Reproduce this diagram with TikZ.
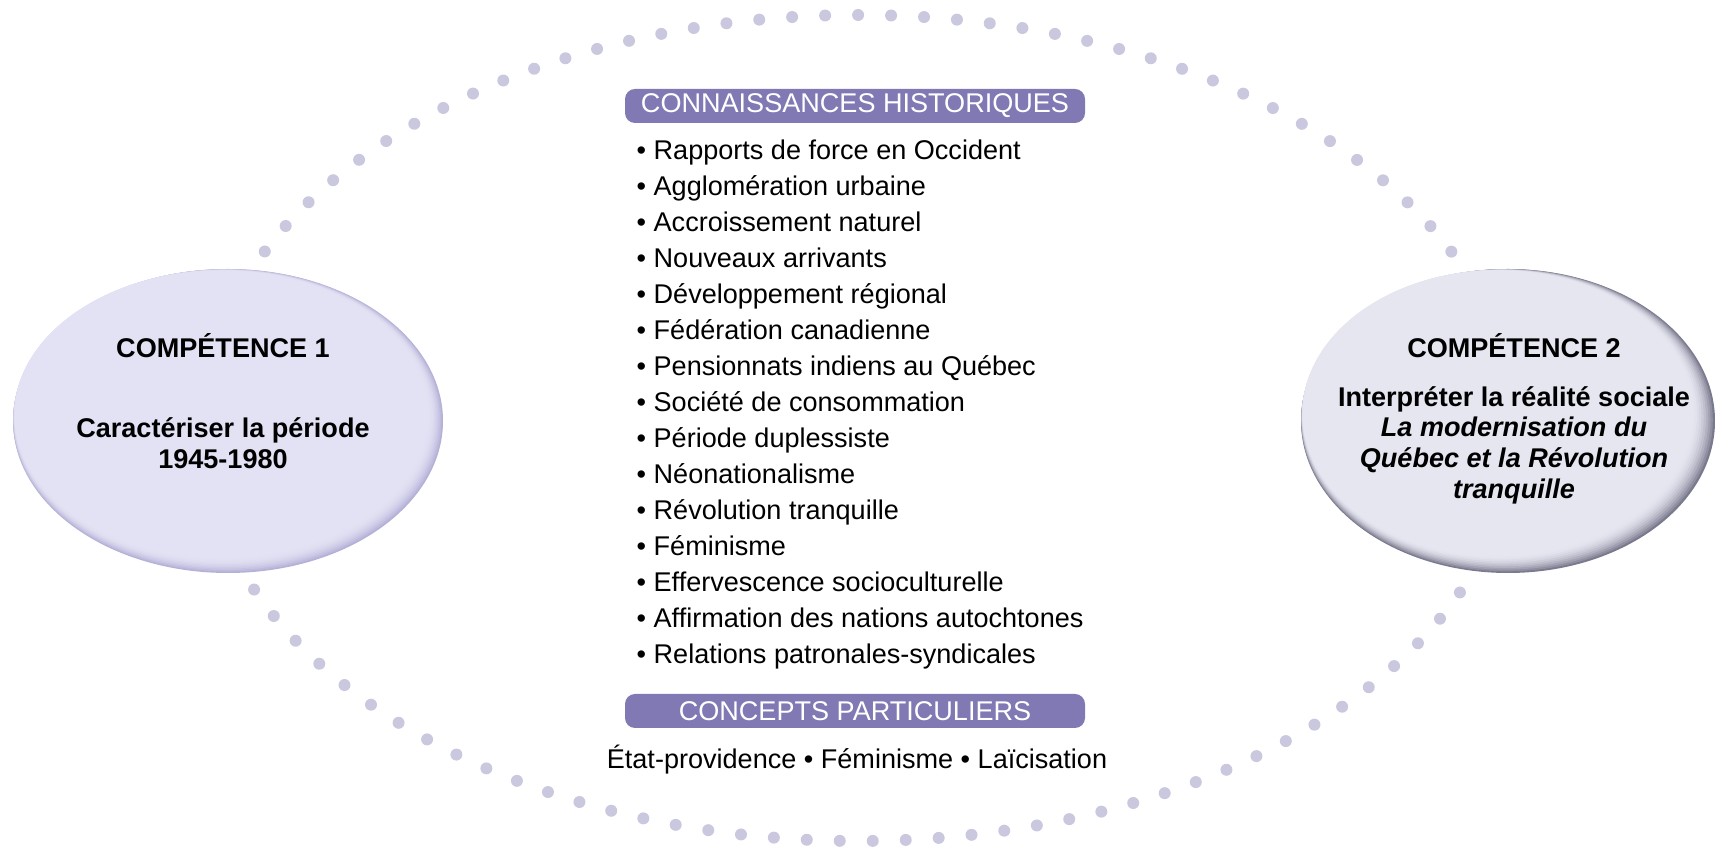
\documentclass[tikz,border=0pt]{standalone}
\usepackage{fontspec}
\setmainfont{Liberation Sans}
\usepackage{xcolor}
\usepackage{tikz}
\usetikzlibrary{shapes.geometric}

\definecolor{headpurple}{RGB}{128,121,180}
\definecolor{dotcol}{RGB}{202,200,222}
\definecolor{lavlight}{RGB}{227,226,244}
\definecolor{lavedge}{RGB}{180,177,215}
\definecolor{greylight}{RGB}{230,230,241}
\definecolor{greyedge}{RGB}{122,122,142}

\tikzset{
  dotring/.style={draw=dotcol, line width=0.12cm, line cap=round, dash pattern=on 0pt off 0.33cm, dash phase=0.075cm},
  bodyfont/.style={font=\fontsize{7.7}{9}\selectfont}
}

\begin{document}
\begin{tikzpicture}
\useasboundingbox (0,0) rectangle (17.15,8.52);
\draw[dotring] (8.58,4.24) ellipse [x radius=6.56, y radius=4.13];
\begin{scope}[every node/.style={ellipse,minimum height=3.04cm,inner sep=0pt}]
    \node[fill=lavedge,minimum width=4.3cm] (comp1) at (2.28,4.31) {};
    \node[fill=greyedge,minimum width=4.14cm] (comp2) at (15.08,4.31) {};
\end{scope}
\foreach \k in {1,...,10} {
    \pgfmathsetmacro\amt{100*(1-(1-\k/10)^2)}
    \pgfmathsetmacro\rx{2.15-0.008*\k}
    \pgfmathsetmacro\ry{1.52-0.008*\k}
    \fill[lavlight!\amt!lavedge] ([shift={(-0.0065*\k,0.0065*\k)}]comp1.center) ellipse [x radius=\rx, y radius=\ry];
    \pgfmathsetmacro\rx{2.07-0.012*\k}
    \pgfmathsetmacro\ry{1.52-0.009*\k}
    \fill[greylight!\amt!greyedge] ([shift={(-0.0105*\k,0.0078*\k)}]comp2.center) ellipse [x radius=\rx, y radius=\ry];
}
\begin{scope}[every node/.style={align=center,inner sep=0pt,font=\fontsize{7.7}{8.8}\selectfont\bfseries}]
    \node (comp1text) at (2.23,4.51) {COMPÉTENCE 1\\[14pt]Caractériser la période\\1945-1980};
    \node (comp2text) at (15.14,4.33) {COMPÉTENCE 2\\[5pt]Interpréter la réalité sociale\\\textit{La modernisation du}\\\textit{Québec et la Révolution}\\\textit{tranquille}};
\end{scope}
\begin{scope}[every node/.style={fill=headpurple,text=white,rounded corners=0.1cm,minimum width=4.6cm,minimum height=0.34cm,inner sep=0pt,bodyfont}]
    \node (histhead) at (8.55,7.46) {CONNAISSANCES HISTORIQUES};
    \node (concepthead) at (8.55,1.41) {CONCEPTS PARTICULIERS};
\end{scope}
\begin{scope}[every node/.style={anchor=base west,inner sep=0pt,bodyfont}]
    \foreach \entry [count=\i] in {Rapports de force en Occident,Agglomération urbaine,Accroissement naturel,Nouveaux arrivants,Développement régional,Fédération canadienne,Pensionnats indiens au Québec,Société de consommation,Période duplessiste,Néonationalisme,Révolution tranquille,Féminisme,Effervescence socioculturelle,Affirmation des nations autochtones,Relations patronales-syndicales}
        \node (item\i) at (6.36,{6.92-0.36*(\i-1)}) {• \entry};
\end{scope}
\node[anchor=base,inner sep=0pt,bodyfont] (conceptlist) at (8.57,0.83) {État-providence • Féminisme • Laïcisation};
\end{tikzpicture}
\end{document}
